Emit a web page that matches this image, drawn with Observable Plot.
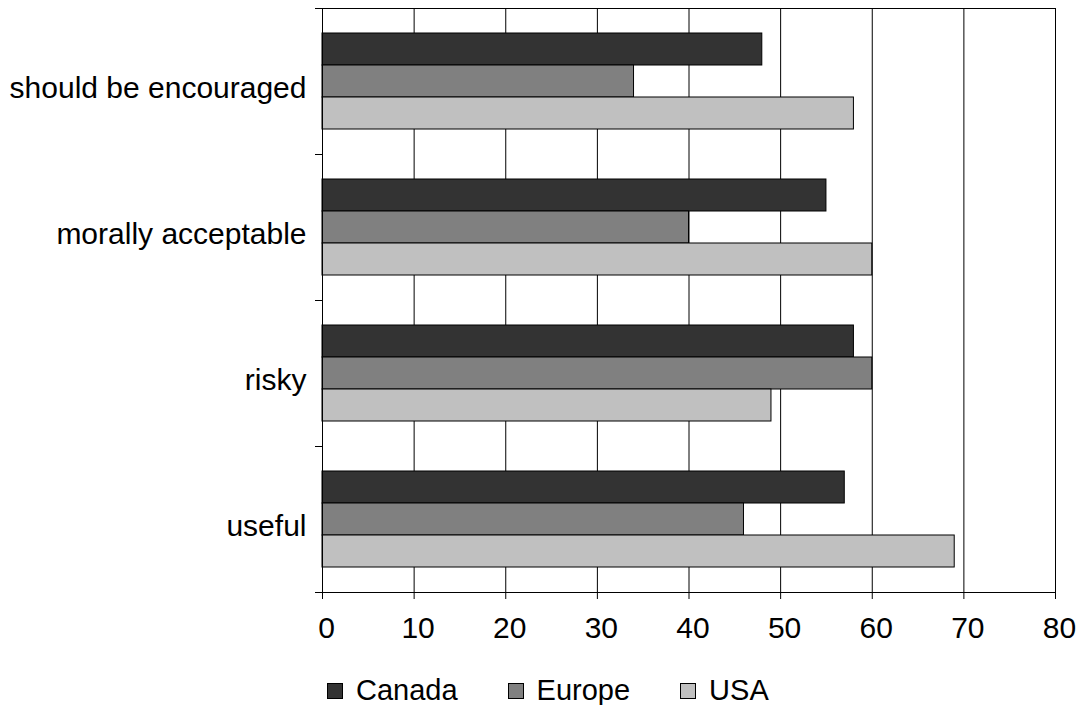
<!DOCTYPE html>
<html><head><meta charset="utf-8">
<script src="https://cdn.jsdelivr.net/npm/d3@7"></script>
<script src="https://cdn.jsdelivr.net/npm/@observablehq/plot@0.6"></script>
<style>
body{margin:0;background:#fff;font-family:"Liberation Sans",Arial,sans-serif;}
#wrap{position:relative;width:1083px;height:705px;background:#fff;overflow:hidden;}
#legend{position:absolute;left:327px;top:678px;display:flex;gap:50px;font-size:29px;line-height:25px;color:#000;}
.item{display:flex;align-items:center;}
.sw{width:14px;height:14px;border:1px solid #000;margin-right:13px;}
</style></head><body><div id="wrap"></div>
<script>
const categories = ["should be encouraged", "morally acceptable", "risky", "useful"];
const series = ["Canada", "Europe", "USA"];
const canada = [48, 55, 58, 57];
const europe = [34, 40, 60, 46];
const usa = [58, 60, 49, 69];
const xTicks = [0, 10, 20, 30, 40, 50, 60, 70, 80];
const colors = ["#333333", "#808080", "#c0c0c0"];

const valuesBySeries = [canada, europe, usa];
const rows = categories.flatMap((c, i) => series.map((s, j) => ({category: c, series: s, value: valuesBySeries[j][i]})));

const W = 1083, H = 650, mT = 8, mB = 58, mL = 322, mR = 28;
const half = (H - mT - mB) / categories.length / 2;

const chart = Plot.plot({
  width: W, height: H,
  marginTop: mT, marginBottom: mB, marginLeft: mL, marginRight: mR,
  style: {fontFamily: '"Liberation Sans", Arial, sans-serif', color: "#000", background: "#fff", overflow: "visible"},
  x: {domain: [0, 80]},
  y: {domain: series, paddingInner: 0, paddingOuter: 0.75, axis: null},
  fy: {domain: categories, padding: 0},
  color: {domain: series, range: colors},
  marks: [
    Plot.gridX(xTicks, {stroke: "#000", strokeOpacity: 1}),
    Plot.barX(rows, {x: "value", y: "series", fy: "category", fill: "series", stroke: "#000", strokeWidth: 1}),
    Plot.ruleX([0], {stroke: "#000"}),
    Plot.frame({anchor: "top", facet: "super", stroke: "#000"}),
    Plot.frame({anchor: "bottom", facet: "super", stroke: "#000"}),
    Plot.axisX(xTicks, {tickSize: 7, tickFormat: () => "", label: null}),
    Plot.axisX(xTicks, {tickSize: 0, tickPadding: 24, fontSize: 30, dx: 4, label: null}),
    Plot.axisFy({anchor: "left", tickSize: 0, tickPadding: 16, fontSize: 30, dy: 7, label: null}),
    Plot.axisFy({anchor: "left", tickSize: 7, tickFormat: () => "", label: null, dy: -half}),
    Plot.axisFy({anchor: "left", tickSize: 7, tickFormat: () => "", label: null, dy: half})
  ]
});

const wrap = document.getElementById("wrap");
wrap.appendChild(chart);
const legend = document.createElement("div");
legend.id = "legend";
series.forEach((s, j) => {
  const item = document.createElement("div");
  item.className = "item";
  const sw = document.createElement("span");
  sw.className = "sw";
  sw.style.background = colors[j];
  const t = document.createElement("span");
  t.textContent = s;
  item.appendChild(sw);
  item.appendChild(t);
  legend.appendChild(item);
});
wrap.appendChild(legend);
</script>
</body></html>
